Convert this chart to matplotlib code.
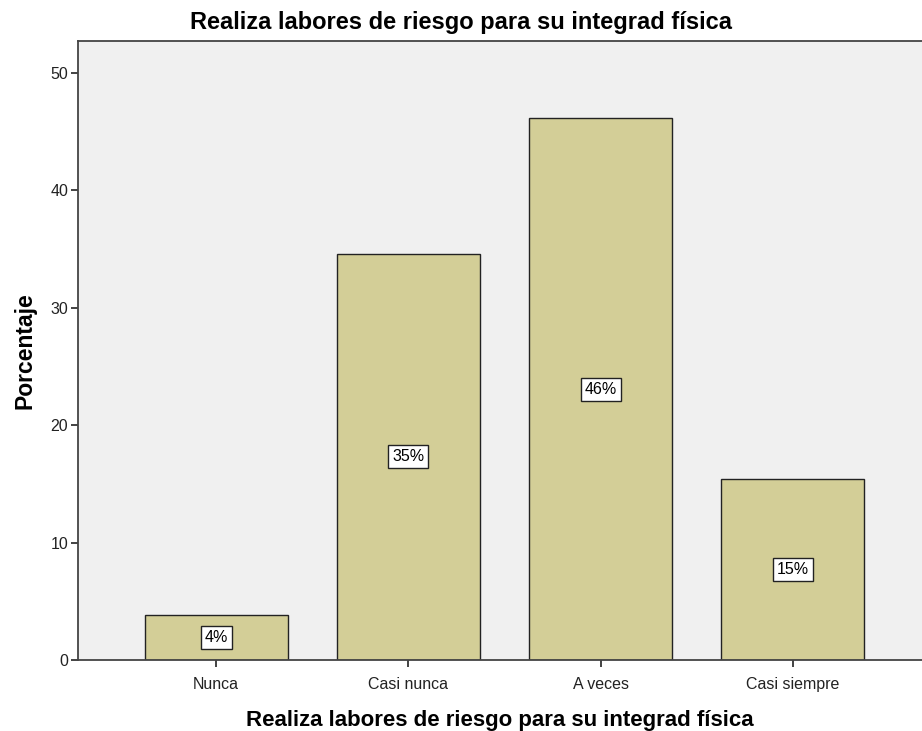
import matplotlib
matplotlib.use("Agg")
import matplotlib.pyplot as plt

categories = ["Nunca", "Casi nunca", "A veces", "Casi siempre"]
porcentajes = [3.85, 34.62, 46.15, 15.38]
etiquetas = ["4%", "35%", "46%", "15%"]

plt.rcParams["font.family"] = ["Liberation Sans", "DejaVu Sans"]

fig = plt.figure(figsize=(9.22, 7.31), dpi=100)
ax = fig.add_axes([0.0846, 0.0971, 0.9154, 0.8468])
ax.set_facecolor("#f0f0f0")

x = range(len(categories))
ax.bar(x, porcentajes, width=0.745, color="#d3ce97", edgecolor="#222222", linewidth=1.0)

# etiquetas de porcentaje en el centro de cada barra
for xi, val, lab in zip(x, porcentajes, etiquetas):
    ax.text(xi, val / 2, lab, ha="center", va="center", fontsize=11.5,
            bbox=dict(boxstyle="square,pad=0.25", facecolor="white", edgecolor="#222222", linewidth=1.0))

ax.set_xlim(-0.719, 3.672)
ax.set_ylim(0, 52.73)
ax.set_xticks(list(x))
ax.set_xticklabels(categories)
ax.set_yticks([0, 10, 20, 30, 40, 50])
ax.tick_params(axis="both", direction="out", length=5, width=1.2, labelsize=11.5, colors="#222222")
ax.tick_params(axis="x", pad=7)
ax.tick_params(axis="y", pad=2)

for side in ["left", "bottom", "top"]:
    ax.spines[side].set_color("#444444")
    ax.spines[side].set_linewidth(1.3)
ax.spines["right"].set_visible(False)

fig.text(0.5, 1 - 22 / 731, "Realiza labores de riesgo para su integrad física",
         ha="center", va="center", fontsize=17, fontweight="bold")
ax.set_xlabel("Realiza labores de riesgo para su integrad física", fontsize=16, fontweight="bold", labelpad=13)
ax.set_ylabel("Porcentaje", fontsize=16.5, fontweight="bold", labelpad=10)

fig.savefig("out.png", dpi=100)
